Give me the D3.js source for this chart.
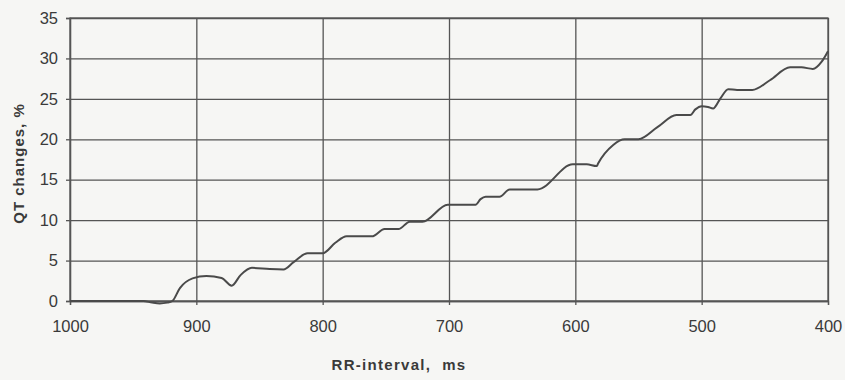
<!DOCTYPE html>
<html>
<head>
<meta charset="utf-8">
<script src="https://cdn.jsdelivr.net/npm/d3@7"></script>
<style>
  html, body { margin: 0; padding: 0; background: #f6f6f4; }
  svg { display: block; font-family: Arial, "Liberation Sans", sans-serif; }
</style>
</head>
<body>
<svg id="drawing_region"></svg>
<script>
// RR-interval (ms) and QT change (%)
const rr = [1000, 942, 935, 929, 923, 919, 913, 903, 892, 880, 872, 865, 856, 842, 831, 823, 812, 800, 790, 781,
            761, 751, 740, 731, 721, 701, 679, 675, 671, 660, 652, 630, 602, 591, 583, 582, 570, 561, 550, 535,
            520, 509, 505, 500, 495, 491, 485, 479, 472, 460, 446, 430, 421, 412, 405, 400];
const qt = [0, 0, -0.2, -0.3, -0.2, 0, 1.6, 2.8, 3.1, 2.85, 1.9, 3.2, 4.1, 3.95, 3.9, 4.8, 5.9, 5.9, 7.2, 8.0,
            8.0, 8.9, 8.9, 9.8, 9.8, 11.9, 11.9, 12.6, 12.9, 12.9, 13.8, 13.8, 16.9, 16.9, 16.7, 17.0, 19.3, 20.0, 20.0, 21.5,
            23.0, 23.0, 23.7, 24.1, 24.0, 23.8, 25.1, 26.2, 26.1, 26.1, 27.3, 28.9, 28.9, 28.7, 29.6, 30.9];

const xTicks = [1000, 900, 800, 700, 600, 500, 400];
const yTicks = [0, 5, 10, 15, 20, 25, 30, 35];

const config = {
    width: 845,
    height: 380,
    margin: { top: 18, right: 17, bottom: 79, left: 70 },
};

const data = rr.map((d, i) => ({ x: d, y: qt[i] }));

const svg = d3.select('#drawing_region')
    .attr('width', config.width)
    .attr('height', config.height);

const inner_width = config.width - config.margin.left - config.margin.right;
const inner_height = config.height - config.margin.top - config.margin.bottom;

const chart = svg.append('g')
    .attr('transform', `translate(${config.margin.left}, ${config.margin.top})`);

const xscale = d3.scaleLinear()
    .domain([1000, 400])
    .range([0, inner_width]);

const yscale = d3.scaleLinear()
    .domain([0, 35])
    .range([inner_height, 0]);

// grid
chart.append('g')
    .attr('class', 'grid')
    .call(d3.axisLeft(yscale).tickValues(yTicks).tickSize(-inner_width).tickFormat(''))
    .call(g => g.select('.domain').remove());

chart.append('g')
    .attr('class', 'grid')
    .call(d3.axisBottom(xscale).tickValues(xTicks).tickSize(inner_height).tickFormat(''))
    .call(g => g.select('.domain').remove());

chart.selectAll('.grid line')
    .attr('stroke', '#555')
    .attr('stroke-width', 1.3);

chart.append('rect')
    .attr('width', inner_width)
    .attr('height', inner_height)
    .attr('fill', 'none')
    .attr('stroke', '#555')
    .attr('stroke-width', 1.3);

// axes
const xaxis_group = chart.append('g')
    .attr('transform', `translate(0, ${inner_height})`)
    .call(d3.axisBottom(xscale).tickValues(xTicks).tickSize(4).tickPadding(15).tickFormat(d3.format('d')));

const yaxis_group = chart.append('g')
    .call(d3.axisLeft(yscale).tickValues(yTicks).tickSize(4).tickPadding(8));

[xaxis_group, yaxis_group].forEach(g => {
    g.select('.domain').attr('stroke', '#555').attr('stroke-width', 1.3);
    g.selectAll('.tick line').attr('stroke', '#555').attr('stroke-width', 1.3);
    g.selectAll('.tick text')
        .attr('fill', '#3a3a3a')
        .attr('font-size', 16.5)
        .attr('font-family', 'Arial, "Liberation Sans", sans-serif');
});

// curve
const line = d3.line()
    .x(d => xscale(d.x))
    .y(d => yscale(d.y))
    .curve(d3.curveMonotoneX);

chart.append('path')
    .datum(data)
    .attr('d', line)
    .attr('fill', 'none')
    .attr('stroke', '#4a4a4a')
    .attr('stroke-width', 2);

// labels
svg.append('text')
    .attr('x', 399)
    .attr('y', 370)
    .attr('text-anchor', 'middle')
    .attr('font-size', 15)
    .attr('font-weight', 'bold')
    .attr('letter-spacing', 1.3)
    .attr('fill', '#3a3a3a')
    .style('white-space', 'pre')
    .text('RR-interval,  ms');

svg.append('text')
    .attr('transform', `translate(24, ${config.margin.top + inner_height / 2 + 4}) rotate(-90)`)
    .attr('text-anchor', 'middle')
    .attr('font-size', 15)
    .attr('font-weight', 'bold')
    .attr('letter-spacing', 1)
    .attr('fill', '#3a3a3a')
    .text('QT changes, %');
</script>
</body>
</html>
